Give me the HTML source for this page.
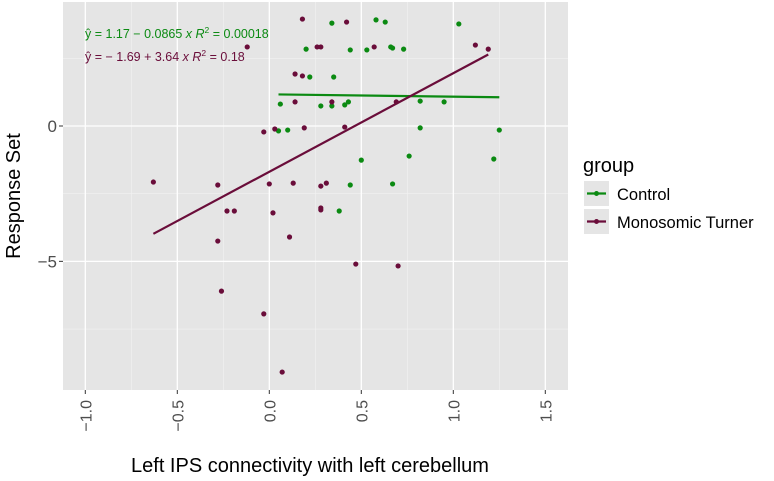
<!DOCTYPE html>
<html><head><meta charset="utf-8"><style>
body{margin:0;background:#fff}
svg{display:block;font-family:"Liberation Sans",sans-serif}
</style></head><body>
<svg id="c" width="774" height="481"></svg>
<script>
const xTicks=[-1.0,-0.5,0.0,0.5,1.0,1.5];
const xTickLabels=["\u22121.0","\u22120.5","0.0","0.5","1.0","1.5"];
const yTicks=[0,-5];
const yTickLabels=["0","\u22125"];
const controlX=[0.34,0.58,0.63,0.20,0.44,0.53,0.66,0.67,0.73,1.03,0.22,0.35,0.06,0.28,0.34,0.41,0.43,0.82,0.95,0.05,0.10,0.82,1.25,0.50,0.76,1.22,0.44,0.67,0.38];
const controlY=[3.80,3.92,3.84,2.84,2.81,2.81,2.92,2.88,2.84,3.77,1.81,1.81,0.81,0.74,0.74,0.78,0.89,0.92,0.89,-0.18,-0.15,-0.07,-0.15,-1.26,-1.11,-1.22,-2.18,-2.14,-3.14];
const turnerX=[0.18,0.42,-0.12,0.26,0.28,0.57,1.12,1.19,0.14,0.18,0.14,0.34,0.69,-0.03,0.03,0.19,0.41,-0.63,-0.28,0.00,0.13,0.28,0.31,-0.23,-0.19,0.02,0.28,0.28,0.11,-0.28,0.47,0.70,-0.26,-0.03,0.07];
const turnerY=[3.95,3.84,2.92,2.92,2.92,2.92,2.99,2.84,1.92,1.85,0.89,0.89,0.89,-0.22,-0.11,-0.07,-0.04,-2.07,-2.18,-2.14,-2.11,-2.22,-2.11,-3.14,-3.14,-3.21,-3.10,-3.03,-4.10,-4.25,-5.10,-5.17,-6.10,-6.94,-9.09];
const controlFit=[1.17,-0.0865];
const turnerFit=[-1.69,3.64];

const NS="http://www.w3.org/2000/svg";
const svg=document.getElementById('c');
const X=v=>269.3+184*v;
const Y=v=>126-27.07*v;
const GREEN="#0b8a12", PURPLE="#6a0d3a";
function el(t,a,p){const e=document.createElementNS(NS,t);for(const k in a)e.setAttribute(k,a[k]);(p||svg).appendChild(e);return e;}

const panel=el('rect',{x:63,y:2,width:505,height:388,fill:'#e5e5e5'});


for(let v=-0.75;v<=1.3;v+=0.5){const l=el('line',{x1:X(v),x2:X(v),y1:2,y2:390,stroke:'#f2f2f2','stroke-width':0.6});

}
for(const v of [2.5,-2.5,-7.5]){const l=el('line',{x1:63,x2:568,y1:Y(v),y2:Y(v),stroke:'#f2f2f2','stroke-width':0.6});

}
xTicks.forEach((v,i)=>{
const g=el('line',{x1:X(v),x2:X(v),y1:2,y2:390,stroke:'#fff','stroke-width':1.3});


el('line',{x1:X(v),x2:X(v),y1:390,y2:394,stroke:'#333'});
const t=el('text',{x:0,y:0,transform:`translate(${X(v)+6},400) rotate(-90)`,'text-anchor':'end','font-size':16,fill:'#4d4d4d'});
t.textContent=xTickLabels[i];


});
yTicks.forEach((v,i)=>{
const g=el('line',{x1:63,x2:568,y1:Y(v),y2:Y(v),stroke:'#fff','stroke-width':1.3});


el('line',{x1:59,x2:63,y1:Y(v),y2:Y(v),stroke:'#333'});
const t=el('text',{x:57,y:Y(v)+6,'text-anchor':'end','font-size':17,fill:'#4d4d4d'});
t.textContent=yTickLabels[i];


});
function fit(f,xs,c,name){const a=Math.min(...xs),b=Math.max(...xs);
const l=el('line',{x1:X(a),y1:Y(f[0]+f[1]*a),x2:X(b),y2:Y(f[0]+f[1]*b),stroke:c,'stroke-width':2.2});

}
function pts(xs,ys,c,name){xs.forEach((x,i)=>{const p=el('circle',{cx:X(x),cy:Y(ys[i]),r:2.6,fill:c});

});}
pts(controlX,controlY,GREEN,'control-point');
pts(turnerX,turnerY,PURPLE,'turner-point');
fit(controlFit,controlX,GREEN,'control-fit-line');
fit(turnerFit,turnerX,PURPLE,'turner-fit-line');

const e1=el('text',{x:85,y:38,'font-size':12.5,fill:GREEN,'xml:space':'preserve'});
e1.innerHTML='ŷ = 1.17 − 0.0865 <tspan font-style="italic">x</tspan>   <tspan font-style="italic">R</tspan><tspan dy="-5" font-size="8.5">2</tspan><tspan dy="5"> = 0.00018</tspan>';


const e2=el('text',{x:85,y:61,'font-size':12.5,fill:PURPLE,'xml:space':'preserve'});
e2.innerHTML='ŷ = − 1.69 + 3.64 <tspan font-style="italic">x</tspan>   <tspan font-style="italic">R</tspan><tspan dy="-5" font-size="8.5">2</tspan><tspan dy="5"> = 0.18</tspan>';



const xt=el('text',{x:310,y:472,'text-anchor':'middle','font-size':20,fill:'#000'});
xt.textContent='Left IPS connectivity with left cerebellum';


const yt=el('text',{x:0,y:0,transform:'translate(20,196) rotate(-90)','text-anchor':'middle','font-size':20,fill:'#000'});
yt.textContent='Response Set';



const lt=el('text',{x:583,y:172,'font-size':20,fill:'#000'});
lt.textContent='group';


[["Control",GREEN,181],["Monosomic Turner",PURPLE,209]].forEach(([n,c,y])=>{
const g=el('g',{});


el('rect',{x:584,y:y,width:25,height:25,fill:'#e5e5e5'},g);
el('line',{x1:587,x2:606,y1:y+12.5,y2:y+12.5,stroke:c,'stroke-width':2.2},g);
el('circle',{cx:596.5,cy:y+12.5,r:2.5,fill:c},g);
const t=el('text',{x:617,y:y+19,'font-size':16.5,fill:'#000'},g);t.textContent=n;
});
</script>
</body></html>
